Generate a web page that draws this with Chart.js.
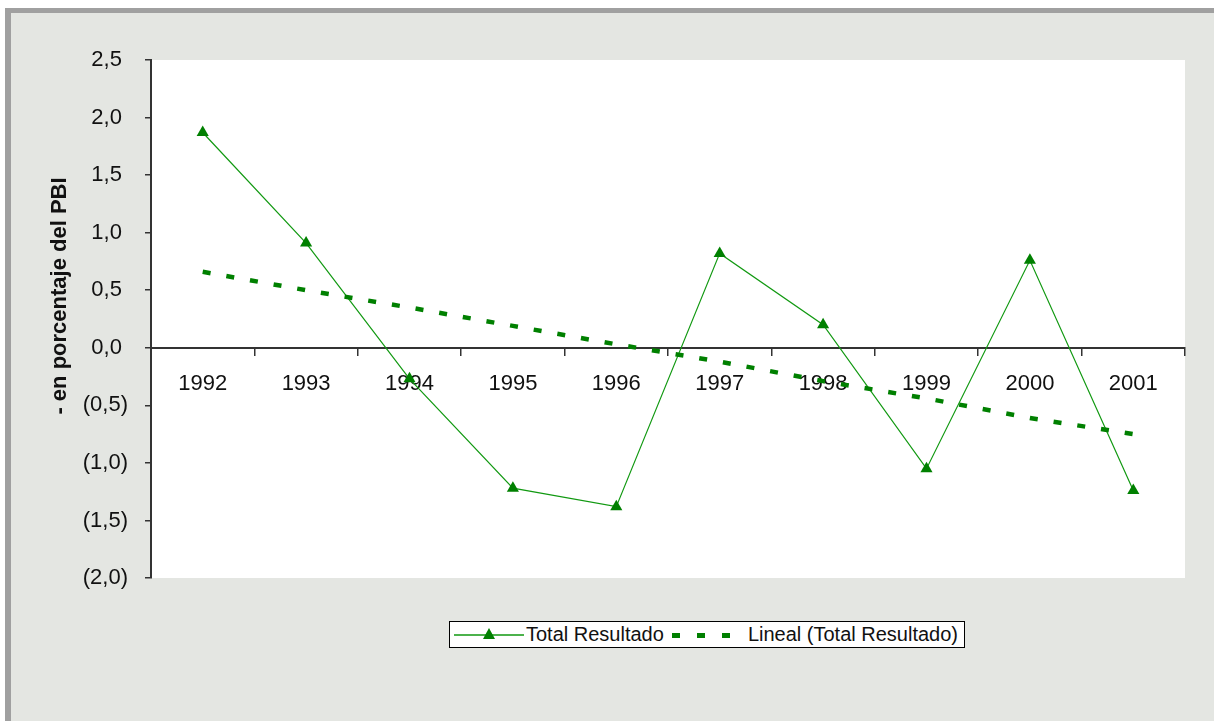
<!DOCTYPE html>
<html>
<head>
<meta charset="utf-8">
<script src="https://cdn.jsdelivr.net/npm/chart.js@4/dist/chart.umd.min.js"></script>
<style>
html,body{margin:0;padding:0;background:#fff;overflow:hidden;width:1214px;height:721px}
#frame{position:absolute;left:5px;top:8px;width:1209px;height:713px;background:#e4e6e2;border-top:5px solid #a0a0a0;border-left:6px solid #a0a0a0;box-sizing:border-box}
#c{position:absolute;left:0;top:0}
#legend{position:absolute;left:449px;top:621px;width:516px;height:27px;box-sizing:border-box;border:1px solid #000;background:#fff;display:flex;align-items:center;font-family:"Liberation Sans",Arial,sans-serif;font-size:20px;color:#111;white-space:nowrap}
#legend svg{display:block}
</style>
</head>
<body>
<div id="frame"></div>
<canvas id="c" width="1214" height="721"></canvas>
<div id="legend">
  <svg width="70" height="20" style="margin-left:4px"><line x1="0" y1="10" x2="70" y2="10" stroke="#119911" stroke-width="1.5"/><polygon points="35,3 41,14 29,14" fill="#008000"/></svg>
  <span style="margin-left:2px">Total Resultado</span>
  <svg width="72" height="20" style="margin-left:6px"><rect x="2" y="8" width="8" height="5" fill="#008000"/><rect x="27" y="8" width="8" height="5" fill="#008000"/><rect x="52" y="8" width="8" height="5" fill="#008000"/></svg>
  <span style="margin-left:6px">Lineal (Total Resultado)</span>
</div>
<script>
const categories = ['1992','1993','1994','1995','1996','1997','1998','1999','2000','2001'];
const totalResultado = [1.87, 0.91, -0.27, -1.22, -1.38, 0.82, 0.20, -1.05, 0.76, -1.24];
const linealTotal = [0.66, 0.50, 0.35, 0.19, 0.03, -0.12, -0.29, -0.44, -0.61, -0.75];
const yTicks = [2.5, 2.0, 1.5, 1.0, 0.5, 0.0, -0.5, -1.0, -1.5, -2.0];
const yTitle = '- en porcentaje del PBI';

const FONT = '"Liberation Sans", Arial, sans-serif';
const fmt = v => {
  const s = Math.abs(v).toFixed(1).replace('.', ',');
  return v < 0 ? '(' + s + ')' : s + ' ';
};

const plotBg = {
  id: 'plotBg',
  beforeDraw(chart) {
    const {ctx, chartArea: a} = chart;
    ctx.save();
    ctx.fillStyle = '#ffffff';
    ctx.fillRect(a.left, a.top, a.right - a.left, a.bottom - a.top);
    ctx.restore();
  },
  afterDraw(chart) {
    const {ctx} = chart;
    ctx.save();
    ctx.translate(60, 296);
    ctx.rotate(-Math.PI / 2);
    ctx.font = 'bold 22px ' + FONT;
    ctx.fillStyle = '#111';
    ctx.textAlign = 'center';
    ctx.textBaseline = 'middle';
    ctx.fillText(yTitle, 0, 0);
    ctx.restore();
  }
};

new Chart(document.getElementById('c'), {
  type: 'line',
  data: {
    labels: categories,
    datasets: [
      {
        label: 'Lineal (Total Resultado)',
        data: linealTotal,
        borderColor: '#008000',
        borderWidth: 4.5,
        borderDash: [8, 16],
        borderCapStyle: 'butt',
        pointRadius: 0,
        fill: false,
        tension: 0
      },
      {
        label: 'Total Resultado',
        data: totalResultado,
        borderColor: '#119911',
        borderWidth: 1.2,
        pointStyle: 'triangle',
        pointRadius: 7,
        pointBackgroundColor: '#008000',
        pointBorderColor: '#008000',
        pointBorderWidth: 0,
        fill: false,
        tension: 0
      }
    ]
  },
  options: {
    responsive: false,
    animation: false,
    devicePixelRatio: 1,
    layout: {padding: {left: 0, top: 60, right: 29, bottom: 143}},
    plugins: {legend: {display: false}, tooltip: {enabled: false}},
    scales: {
      x: {
        type: 'category',
        offset: true,
        position: {y: 0},
        grid: {offset: true, drawOnChartArea: false, drawTicks: true, tickLength: 7, color: '#333', lineWidth: 1.5},
        border: {display: true, color: '#333', width: 2},
        ticks: {font: {family: FONT, size: 22}, color: '#111', padding: 16, maxRotation: 0, autoSkip: false}
      },
      y: {
        min: -2.0,
        max: 2.5,
        afterBuildTicks(scale) { scale.ticks = yTicks.map(v => ({value: v})); },
        afterFit(scale) { scale.width = 151; },
        grid: {drawOnChartArea: false, drawTicks: true, tickLength: 6, color: '#333', lineWidth: 1.5},
        border: {display: true, color: '#333', width: 2},
        ticks: {font: {family: FONT, size: 22}, color: '#111', padding: 17, callback: v => fmt(v)}
      }
    }
  },
  plugins: [plotBg]
});
</script>
</body>
</html>
